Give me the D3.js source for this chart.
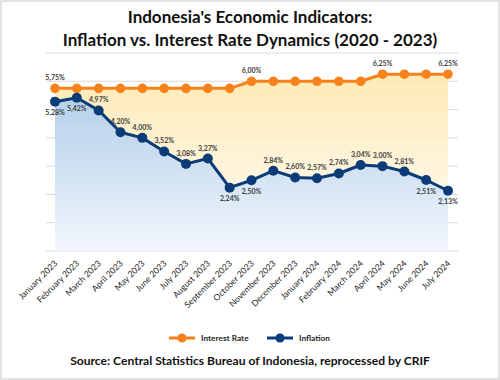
<!DOCTYPE html>
<html>
<head>
<meta charset="utf-8">
<script src="https://cdn.jsdelivr.net/npm/d3@7"></script>
<style>
  html, body { margin: 0; padding: 0; background: #fff; }
  svg { display: block; font-family: Lato, "Open Sans", sans-serif; }
</style>
</head>
<body>
<svg id="chart" width="500" height="380"></svg>
<script>
// ---- data ----
const months = ["January 2023","February 2023","March 2023","April 2023","May 2023","June 2023","July 2023","August 2023","September 2023","October 2023","November 2023","December 2023","January 2024","February 2024","March 2024","April 2024","May 2024","June 2024","July 2024"];
const interestRate = [5.75,5.75,5.75,5.75,5.75,5.75,5.75,5.75,5.75,6.00,6.00,6.00,6.00,6.00,6.00,6.25,6.25,6.25,6.25];
const inflation = [5.28,5.42,4.97,4.20,4.00,3.52,3.08,3.27,2.24,2.50,2.84,2.60,2.57,2.74,3.04,3.00,2.81,2.51,2.13];
const yTicks = [0,1,2,3,4,5,6,7];
// which labels are shown for the interest rate (only where it changes)
const interestLabelShown = [true,false,false,false,false,false,false,false,false,true,false,false,false,false,false,true,false,false,true];
// placement of inflation labels
const inflationLabelPlace = ["below","below","above","above","above","above","above","above","below","below","above","above","above","above","above","above","above","below","below"];
const seriesNames = ["Interest Rate","Inflation"];

const colors = { rate: "#F7821B", infl: "#0B3C78" };

const svg = d3.select("#chart");
const W = 500, H = 380;

// border
svg.append("rect").attr("x",1).attr("y",1).attr("width",W-2).attr("height",H-2)
  .attr("fill","#fff").attr("stroke","#D9D9D9").attr("stroke-width",1.5);

// title
const title = svg.append("text").attr("text-anchor","middle").attr("font-weight","bold")
  .attr("font-size",17).attr("fill","#111");
title.append("tspan").attr("x",250).attr("y",23).text("Indonesia's Economic Indicators:");
title.append("tspan").attr("x",250).attr("y",46).text("Inflation vs. Interest Rate Dynamics (2020 - 2023)");

// scales
const x = d3.scalePoint().domain(months).range([55, 448]);
const y = d3.scaleLinear().domain([0,7]).range([251, 53]);
const gridX0 = 46, gridX1 = 458;

// defs gradients
const defs = svg.append("defs");
const gO = defs.append("linearGradient").attr("id","gOrange").attr("x1",0).attr("y1",0).attr("x2",0).attr("y2",1);
gO.append("stop").attr("offset","0%").attr("stop-color","#FDE6A8").attr("stop-opacity",0.85);
gO.append("stop").attr("offset","100%").attr("stop-color","#FFFFFF").attr("stop-opacity",0.9);
const gB = defs.append("linearGradient").attr("id","gBlue").attr("x1",0).attr("y1",0).attr("x2",0).attr("y2",1);
gB.append("stop").attr("offset","0%").attr("stop-color","#B5D0EA");
gB.append("stop").attr("offset","100%").attr("stop-color","#F1F6FC");

// gridlines
svg.append("g").selectAll("line").data(yTicks).join("line")
  .attr("x1",gridX0).attr("x2",gridX1)
  .attr("y1",d=>y(d)).attr("y2",d=>y(d))
  .attr("stroke","#D9D9D9").attr("stroke-width",1);

// areas
const area = d3.area().x((d,i)=>x(months[i])).y0(y(0)).y1(d=>y(d));
svg.append("path").datum(interestRate).attr("d",area).attr("fill","url(#gOrange)");
svg.append("path").datum(inflation).attr("d",area).attr("fill","url(#gBlue)");

// lines
const line = d3.line().x((d,i)=>x(months[i])).y(d=>y(d));
svg.append("path").datum(interestRate).attr("d",line).attr("fill","none")
  .attr("stroke",colors.rate).attr("stroke-width",3).attr("stroke-linejoin","round");
svg.append("path").datum(inflation).attr("d",line).attr("fill","none")
  .attr("stroke",colors.infl).attr("stroke-width",3).attr("stroke-linejoin","round");

// markers
svg.append("g").selectAll("circle").data(interestRate).join("circle")
  .attr("cx",(d,i)=>x(months[i])).attr("cy",d=>y(d)).attr("r",4.8).attr("fill",colors.rate);
svg.append("g").selectAll("circle").data(inflation).join("circle")
  .attr("cx",(d,i)=>x(months[i])).attr("cy",d=>y(d)).attr("r",5).attr("fill",colors.infl);

const fmt = v => v.toFixed(2).replace(".",",") + "%";

// data labels
svg.append("g").selectAll("text").data(interestRate.map((v,i)=>({v,i})).filter(d=>interestLabelShown[d.i])).join("text")
  .attr("x",d=>x(months[d.i])).attr("y",d=>y(d.v)-8.5)
  .attr("text-anchor","middle").attr("font-size",7).attr("font-weight","bold").attr("fill","#404040")
  .text(d=>fmt(d.v));

svg.append("g").selectAll("text").data(inflation.map((v,i)=>({v,i}))).join("text")
  .attr("x",d=>x(months[d.i]))
  .attr("y",d=> inflationLabelPlace[d.i]==="below" ? y(d.v)+13.5 : y(d.v)-8)
  .attr("text-anchor","middle").attr("font-size",7).attr("font-weight","bold").attr("fill","#404040")
  .text(d=>fmt(d.v));

// x axis labels
svg.append("g").selectAll("text").data(months).join("text")
  .attr("transform",d=>`translate(${x(d)+3},${264}) rotate(-45)`)
  .attr("text-anchor","end").attr("font-size",8.6).attr("fill","#262626")
  .text(d=>d);

// legend
const legend = svg.append("g");
const legItems = [
  {name: seriesNames[0], color: colors.rate, x0: 169},
  {name: seriesNames[1], color: colors.infl, x0: 267}
];
legItems.forEach(it=>{
  legend.append("line").attr("x1",it.x0).attr("x2",it.x0+26).attr("y1",338).attr("y2",338)
    .attr("stroke",it.color).attr("stroke-width",3);
  legend.append("circle").attr("cx",it.x0+13).attr("cy",338).attr("r",4.6).attr("fill",it.color);
  legend.append("text").attr("x",it.x0+32).attr("y",341).attr("font-size",8.3).attr("font-weight","bold")
    .attr("fill","#262626").text(it.name);
});

// source
svg.append("text").attr("x",250).attr("y",365).attr("text-anchor","middle")
  .attr("font-size",12.1).attr("font-weight","bold").attr("fill","#111")
  .text("Source: Central Statistics Bureau of Indonesia, reprocessed by CRIF");
</script>
</body>
</html>
